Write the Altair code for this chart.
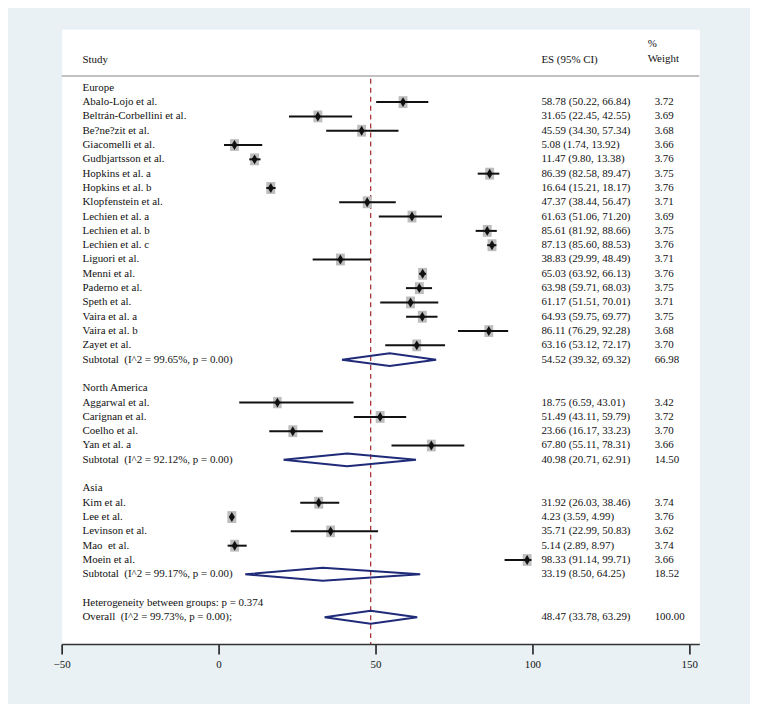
import altair as alt
import pandas as pd

# ---------------- data ----------------
group_names = ["Europe", "North America", "Asia"]

europe_studies = ["Abalo-Lojo et al.", "Beltrán-Corbellini et al.", "Be?ne?zit et al.",
                  "Giacomelli et al.", "Gudbjartsson et al.", "Hopkins et al. a",
                  "Hopkins et al. b", "Klopfenstein et al.", "Lechien et al. a",
                  "Lechien et al. b", "Lechien et al. c", "Liguori et al.",
                  "Menni et al.", "Paderno et al.", "Speth et al.", "Vaira et al. a",
                  "Vaira et al. b", "Zayet et al."]
europe_es = [58.78, 31.65, 45.59, 5.08, 11.47, 86.39, 16.64, 47.37, 61.63,
             85.61, 87.13, 38.83, 65.03, 63.98, 61.17, 64.93, 86.11, 63.16]
europe_lo = [50.22, 22.45, 34.30, 1.74, 9.80, 82.58, 15.21, 38.44, 51.06,
             81.92, 85.60, 29.99, 63.92, 59.71, 51.51, 59.75, 76.29, 53.12]
europe_hi = [66.84, 42.55, 57.34, 13.92, 13.38, 89.47, 18.17, 56.47, 71.20,
             88.66, 88.53, 48.49, 66.13, 68.03, 70.01, 69.77, 92.28, 72.17]
europe_wt = [3.72, 3.69, 3.68, 3.66, 3.76, 3.75, 3.76, 3.71, 3.69,
             3.75, 3.76, 3.71, 3.76, 3.75, 3.71, 3.75, 3.68, 3.70]

namerica_studies = ["Aggarwal et al.", "Carignan et al.", "Coelho et al.", "Yan et al. a"]
namerica_es = [18.75, 51.49, 23.66, 67.80]
namerica_lo = [6.59, 43.11, 16.17, 55.11]
namerica_hi = [43.01, 59.79, 33.23, 78.31]
namerica_wt = [3.42, 3.72, 3.70, 3.66]

asia_studies = ["Kim et al.", "Lee et al.", "Levinson et al.", "Mao\u00a0 et al.", "Moein et al."]
asia_es = [31.92, 4.23, 35.71, 5.14, 98.33]
asia_lo = [26.03, 3.59, 22.99, 2.89, 91.14]
asia_hi = [38.46, 4.99, 50.83, 8.97, 99.71]
asia_wt = [3.74, 3.76, 3.62, 3.74, 3.66]

subtotal_labels = ["Subtotal\u00a0 (I^2 = 99.65%, p = 0.00)",
                   "Subtotal\u00a0 (I^2 = 92.12%, p = 0.00)",
                   "Subtotal\u00a0 (I^2 = 99.17%, p = 0.00)"]
subtotal_es = [54.52, 40.98, 33.19]
subtotal_lo = [39.32, 20.71, 8.50]
subtotal_hi = [69.32, 62.91, 64.25]
subtotal_wt = [66.98, 14.50, 18.52]

het_label = "Heterogeneity between groups: p = 0.374"
overall_label = "Overall\u00a0 (I^2 = 99.73%, p = 0.00);"
overall_es = 48.47
overall_lo = 33.78
overall_hi = 63.29
overall_wt = 100.00

axis_ticks = [-50, 0, 50, 100, 150]

# ---------------- build tables ----------------
groups = [
    (europe_studies, europe_es, europe_lo, europe_hi, europe_wt),
    (namerica_studies, namerica_es, namerica_lo, namerica_hi, namerica_wt),
    (asia_studies, asia_es, asia_lo, asia_hi, asia_wt),
]

def fmt(e, l, h):
    return f"{e:.2f} ({l:.2f}, {h:.2f})"

text_rows, study_rows, diamond_pts = [], [], []
HALF = 0.45

def add_diamond(r, e, l, h, key):
    pts = [(l, r), (e, r - HALF), (h, r), (e, r + HALF), (l, r)]
    for i, (px, py) in enumerate(pts):
        diamond_pts.append({"x": px, "row": py, "ord": i, "grp": key})

r = 0
for gi, (name, (labs, es, lo, hi, wt)) in enumerate(zip(group_names, groups)):
    text_rows.append({"row": r, "label": name, "est": "", "w": ""})
    r += 1
    for lab, e, l, h, w in zip(labs, es, lo, hi, wt):
        text_rows.append({"row": r, "label": lab, "est": fmt(e, l, h), "w": f"{w:.2f}"})
        study_rows.append({"row": r, "es": e, "lo": l, "hi": h, "w": w})
        r += 1
    text_rows.append({"row": r, "label": subtotal_labels[gi],
                      "est": fmt(subtotal_es[gi], subtotal_lo[gi], subtotal_hi[gi]),
                      "w": f"{subtotal_wt[gi]:.2f}"})
    add_diamond(r, subtotal_es[gi], subtotal_lo[gi], subtotal_hi[gi], f"g{gi}")
    r += 2

text_rows.append({"row": r, "label": het_label, "est": "", "w": ""})
r += 1
text_rows.append({"row": r, "label": overall_label,
                  "est": fmt(overall_es, overall_lo, overall_hi), "w": f"{overall_wt:.2f}"})
add_diamond(r, overall_es, overall_lo, overall_hi, "overall")

text_df = pd.DataFrame(text_rows)
study_df = pd.DataFrame(study_rows)
diamond_df = pd.DataFrame(diamond_pts)
ref_df = pd.DataFrame({"es": [overall_es]})
one = pd.DataFrame({"a": [0]})

# ---------------- layout constants ----------------
W, H = 642, 619
FONT = "Liberation Serif"
FS = 11
HEADER_Y = 47

xscale = alt.Scale(domain=[-50, 153.2], nice=False, zero=False)
yscale = alt.Scale(domain=[-4.096, 38.876], reverse=True, nice=False, zero=False)
xaxis = alt.Axis(values=axis_ticks, title=None, grid=False, tickSize=10,
                 tickColor="#111111", tickWidth=1.5, domainColor="#333333",
                 domainWidth=1.5, labelFont=FONT, labelFontSize=FS,
                 labelColor="#111111", labelPadding=5, labelFlush=False)

Y = alt.Y("row:Q", scale=yscale, axis=None)

header_line = alt.Chart(one).mark_rect(color="#c2c2c2").encode(
    x=alt.value(0), x2=alt.value(W), y=alt.value(HEADER_Y - 1), y2=alt.value(HEADER_Y + 1))

ref_line = alt.Chart(ref_df).mark_rule(color="#a8343a", strokeWidth=1.3,
                                       strokeDash=[5, 4]).encode(
    x=alt.X("es:Q", scale=xscale, axis=xaxis), y=alt.value(HEADER_Y + 3), y2=alt.value(H))

boxes = alt.Chart(study_df).mark_point(
    filled=True, shape="M-0.75,-1L0.75,-1L0.75,1L-0.75,1Z",
    color="#bdbdbd", opacity=1).encode(
    x=alt.X("es:Q", scale=xscale, axis=xaxis), y=Y,
    size=alt.Size("w:Q", scale=alt.Scale(domain=[0, 3.76], range=[0, 144]), legend=None))

ci = alt.Chart(study_df).mark_rule(color="#111111", strokeWidth=2).encode(
    x=alt.X("lo:Q", scale=xscale, axis=xaxis), x2="hi:Q", y=Y)

marks = alt.Chart(study_df).mark_point(
    filled=True, shape="M0,-1L0.6,0L0,1L-0.6,0Z", color="#111111",
    size=100, opacity=1).encode(
    x=alt.X("es:Q", scale=xscale, axis=xaxis), y=Y)

diamonds = alt.Chart(diamond_df).mark_line(color="#1f2a78", strokeWidth=2).encode(
    x=alt.X("x:Q", scale=xscale, axis=xaxis), y=Y,
    order="ord:Q", detail="grp:N")

def col_text(field, px):
    return alt.Chart(text_df).mark_text(
        align="left", baseline="middle", font=FONT, fontSize=FS, color="#111111").encode(
        x=alt.value(px), y=Y, text=f"{field}:N")

labels = col_text("label", 21)
est_col = col_text("est", 483)
w_col = col_text("w", 597)

def header(txt, px, py):
    return alt.Chart(one).mark_text(
        text=txt, align="left", baseline="middle", font=FONT, fontSize=FS,
        color="#111111").encode(x=alt.value(px), y=alt.value(py))

headers = [header("Study", 21, 31), header("ES (95% CI)", 483, 31),
           header("%", 590, 15), header("Weight", 590, 30)]

chart = alt.layer(
    header_line, ref_line, boxes, ci, marks, diamonds, labels, est_col, w_col, *headers
).properties(
    width=W, height=H,
    background="#e9f1f4",
    padding={"left": 54, "top": 19, "right": 51, "bottom": 58},
    autosize=alt.AutoSizeParams(type="none"),
).configure_view(fill="white", stroke="transparent")

chart.save("out.html", embed_options={"renderer": "svg", "actions": False})
